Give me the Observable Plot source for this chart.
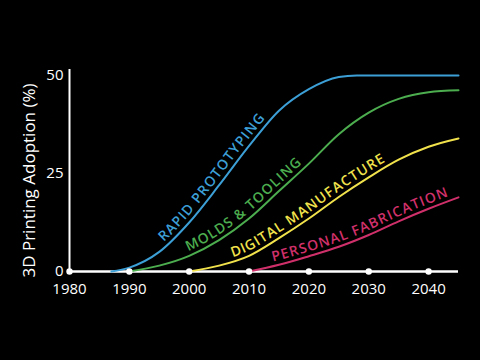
<!DOCTYPE html>
<html><head><meta charset="utf-8">
<script src="https://cdn.jsdelivr.net/npm/d3@7"></script>
<script src="https://cdn.jsdelivr.net/npm/@observablehq/plot@0.6"></script>
<style>
html,body{margin:0;padding:0;background:#000;}
#chart svg{display:block;}
</style>
</head><body><div id="chart"></div>
<script>
const seriesNames = ["RAPID PROTOTYPING", "MOLDS & TOOLING", "DIGITAL MANUFACTURE", "PERSONAL FABRICATION"];
const seriesColors = ["#3c9fd6", "#4cad4f", "#f1e24c", "#d0306a"];
const rapidYears  = [1987, 1990, 1995, 2000, 2005, 2010, 2015, 2020, 2025, 2028, 2045];
const rapidValues = [0, 1, 5, 12.5, 22, 32, 41, 46.5, 49.6, 50, 50];
const moldsYears  = [1990, 1995, 2000, 2005, 2010, 2015, 2020, 2025, 2030, 2035, 2040, 2045];
const moldsValues = [0, 1.5, 4, 8, 13.5, 20.5, 27.5, 35, 40.5, 44, 45.7, 46.2];
const digitalYears  = [2000, 2005, 2010, 2015, 2020, 2025, 2030, 2035, 2040, 2045];
const digitalValues = [0, 1.5, 4, 8.5, 13.5, 19, 24, 28.5, 31.8, 33.9];
const personalYears  = [2010, 2015, 2020, 2025, 2030, 2035, 2040, 2045];
const personalValues = [0, 1.7, 3.9, 6.3, 9.3, 12.8, 16, 18.9];
const labelStartYears = [1996.3, 2000.2, 2007.5, 2014.2];
const xTicks = [1980, 1990, 2000, 2010, 2020, 2030, 2040];
const yTicks = [0, 25, 50];
const yLabel = "3D Printing Adoption (%)";

const seriesYears = [rapidYears, moldsYears, digitalYears, personalYears];
const seriesValues = [rapidValues, moldsValues, digitalValues, personalValues];
const rows = [];
seriesNames.forEach((name, i) => seriesYears[i].forEach((yr, j) => rows.push({series: name, year: yr, value: seriesValues[i][j]})));

function curveLabels(index, scales) {
  const ns = "http://www.w3.org/2000/svg";
  const g = document.createElementNS(ns, "g");
  const defs = document.createElementNS(ns, "defs");
  g.appendChild(defs);
  const tmpSvg = document.createElementNS(ns, "svg");
  document.body.appendChild(tmpSvg);
  seriesNames.forEach((name, i) => {
    const pts = seriesYears[i].map((yr, j) => [scales.x(yr), scales.y(seriesValues[i][j])]);
    const d = d3.line().curve(d3.curveMonotoneX)(pts);
    const tmp = document.createElementNS(ns, "path");
    tmp.setAttribute("d", d);
    tmpSvg.appendChild(tmp);
    const total = tmp.getTotalLength();
    const x0 = scales.x(labelStartYears[i]);
    let off = 0;
    for (let L = 0; L <= total; L += 0.5) { if (tmp.getPointAtLength(L).x >= x0) { off = L; break; } }
    const id = "lblpath" + i;
    const p = document.createElementNS(ns, "path");
    p.setAttribute("id", id);
    p.setAttribute("d", d);
    p.setAttribute("fill", "none");
    defs.appendChild(p);
    const t = document.createElementNS(ns, "text");
    t.setAttribute("fill", seriesColors[i]);
    t.setAttribute("text-anchor", "start");
    t.setAttribute("font-family", "'Open Sans', sans-serif");
    t.setAttribute("font-size", "14");
    t.setAttribute("font-weight", "600");
    t.setAttribute("letter-spacing", "1.1");
    const tp = document.createElementNS(ns, "textPath");
    tp.setAttribute("href", "#" + id);
    tp.setAttribute("startOffset", off);
    const ts = document.createElementNS(ns, "tspan");
    ts.setAttribute("dy", "-4");
    ts.textContent = name;
    tp.appendChild(ts);
    t.appendChild(tp);
    g.appendChild(t);
  });
  tmpSvg.remove();
  return g;
}

const chart = Plot.plot({
  width: 480,
  height: 360,
  marginLeft: 69,
  marginRight: 22,
  marginTop: 69,
  marginBottom: 89,
  style: {background: "#000", color: "#fff", fontFamily: "'Open Sans', sans-serif", fontSize: "15px"},
  x: {domain: [1980, 2045], ticks: xTicks, tickFormat: d => String(d), tickSize: 0, tickPadding: 12, label: null},
  y: {domain: [0, 51.5], ticks: yTicks, tickSize: 0, tickPadding: 6, label: null},
  color: {domain: seriesNames, range: seriesColors},
  marks: [
    Plot.ruleX([1980], {y1: 0, y2: 51.5, stroke: "#fff", strokeWidth: 2}),
    Plot.ruleY([0], {x1: 1980, x2: 2045, stroke: "#fff", strokeWidth: 2.5}),
    Plot.line(rows, {x: "year", y: "value", z: "series", stroke: "series", curve: "monotone-x", strokeWidth: 2}),
    Plot.dot(xTicks, {x: d => d, y: d => 0, r: 3.2, fill: "#fff", stroke: null}),
    Plot.text([yLabel], {frameAnchor: "left", text: d => d, textAnchor: "middle", rotate: -90, dx: -40, dy: 10, fill: "#fff", fontSize: 17}),
    curveLabels
  ]
});
document.getElementById("chart").appendChild(chart);
</script>
</body></html>
